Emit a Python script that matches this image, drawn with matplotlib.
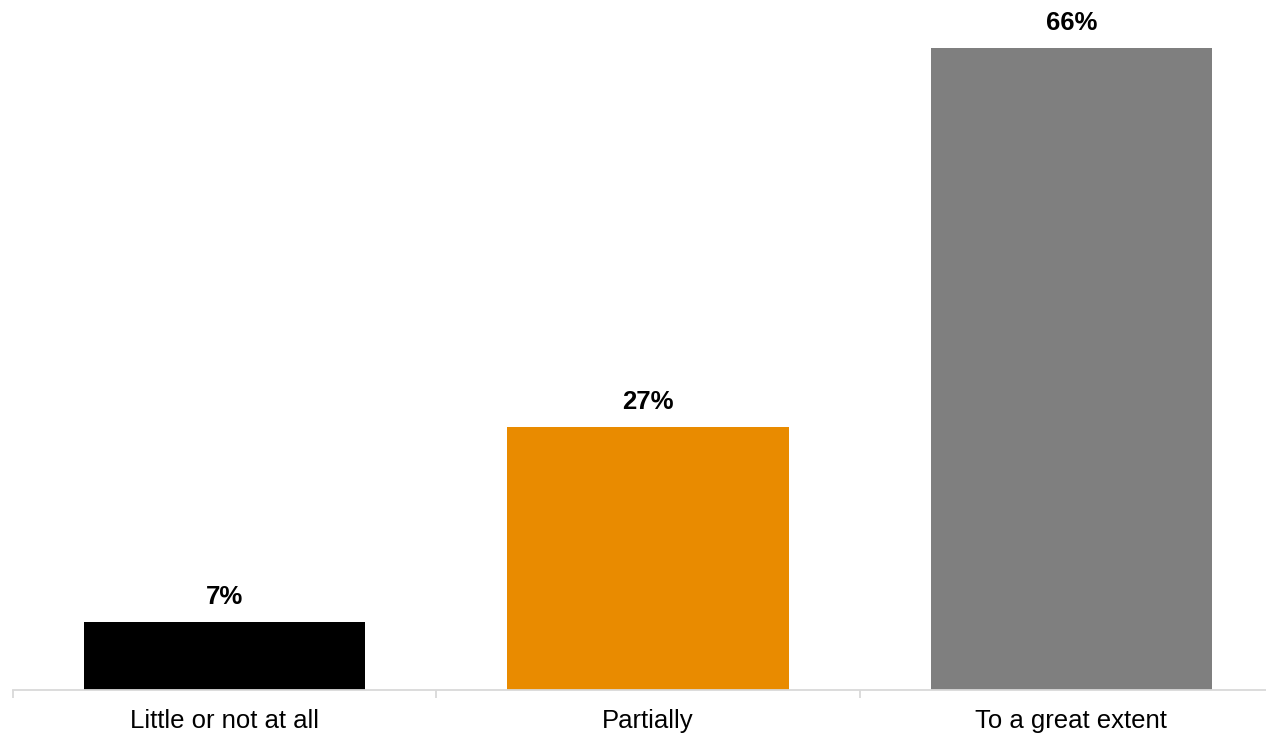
import matplotlib
matplotlib.use("Agg")
import matplotlib.pyplot as plt

categories = ["Little or not at all", "Partially", "To a great extent"]
values = [7, 27, 66]
labels = ["7%", "27%", "66%"]
colors = ["#000000", "#E98B00", "#7F7F7F"]

plt.rcParams["font.family"] = ["Liberation Sans", "DejaVu Sans"]

W, H = 1266, 735
fig = plt.figure(figsize=(W / 100, H / 100), dpi=100)
# axes spans slightly past the right edge so the baseline runs off the canvas
left_px, right_px = 13, 1283
base_px, top_px = 690, 11
ax = fig.add_axes([left_px / W, (H - base_px) / H,
                   (right_px - left_px) / W, (base_px - top_px) / H])

x = range(len(categories))
bars = ax.bar(x, values, width=0.664, color=colors)
ax.set_xlim(-0.5, len(categories) - 0.5)
ax.set_ylim(0, 69.8)

for rect, lab in zip(bars, labels):
    ax.annotate(lab, (rect.get_x() + rect.get_width() / 2, rect.get_height()),
                xytext=(0, 13), textcoords="offset points",
                ha="center", va="baseline", fontsize=18.5, fontweight="bold")

ax.set_xticks([i for i in x])
ax.set_xticklabels(categories, fontsize=18.5)
ax.set_xticks([-0.5, 0.5, 1.5, 2.5], minor=True)
ax.tick_params(axis="x", which="major", length=0, pad=14)
ax.tick_params(axis="x", which="minor", length=6, color="#D9D9D9", width=1.3)
ax.set_yticks([])
for side in ["top", "right", "left"]:
    ax.spines[side].set_visible(False)
ax.spines["bottom"].set_color("#D9D9D9")
ax.spines["bottom"].set_linewidth(1.3)

fig.savefig("out.png", dpi=100)
